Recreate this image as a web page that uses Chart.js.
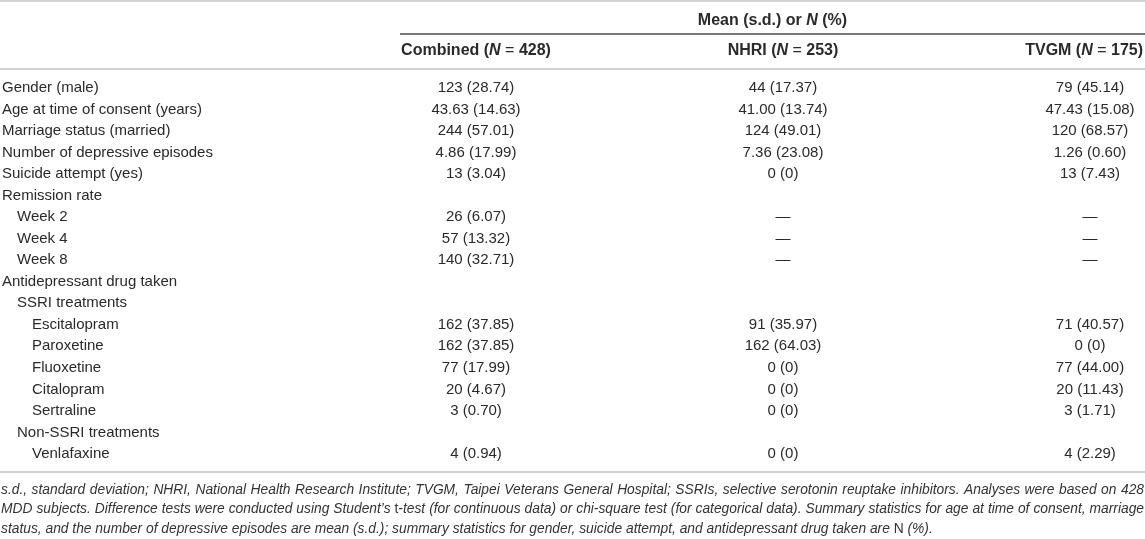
<!DOCTYPE html>
<html>
<head>
<meta charset="utf-8">
<script src="https://cdn.jsdelivr.net/npm/chart.js"></script>
<style>
  html, body { margin: 0; padding: 0; background: #fff; }
  #wrap { width: 1145px; height: 539px; position: relative; }
</style>
</head>
<body>
<div id="wrap"><canvas id="table-canvas"></canvas></div>
<script>
// Data

const columns = ['Combined', 'NHRI', 'TVGM'];
const columnN = [428, 253, 175];

const rows = [
    'Gender (male)', 'Age at time of consent (years)', 'Marriage status (married)',
    'Number of depressive episodes', 'Suicide attempt (yes)', 'Remission rate',
    'Week 2', 'Week 4', 'Week 8', 'Antidepressant drug taken', 'SSRI treatments',
    'Escitalopram', 'Paroxetine', 'Fluoxetine', 'Citalopram', 'Sertraline',
    'Non-SSRI treatments', 'Venlafaxine'
];
const rowLevel = [0, 0, 0, 0, 0, 0, 1, 1, 1, 0, 1, 2, 2, 2, 2, 2, 1, 2];

const combined = ['123 (28.74)', '43.63 (14.63)', '244 (57.01)', '4.86 (17.99)', '13 (3.04)', '',
    '26 (6.07)', '57 (13.32)', '140 (32.71)', '', '',
    '162 (37.85)', '162 (37.85)', '77 (17.99)', '20 (4.67)', '3 (0.70)', '', '4 (0.94)'];
const nhri = ['44 (17.37)', '41.00 (13.74)', '124 (49.01)', '7.36 (23.08)', '0 (0)', '',
    '—', '—', '—', '', '',
    '91 (35.97)', '162 (64.03)', '0 (0)', '0 (0)', '0 (0)', '', '0 (0)'];
const tvgm = ['79 (45.14)', '47.43 (15.08)', '120 (68.57)', '1.26 (0.60)', '13 (7.43)', '',
    '—', '—', '—', '', '',
    '71 (40.57)', '0 (0)', '77 (44.00)', '20 (11.43)', '3 (1.71)', '', '4 (2.29)'];

// Fonts

const FAM = '"Liberation Sans", Arial, Helvetica, sans-serif';
const reg = '15px ' + FAM,
      hreg = '16px ' + FAM,
      bold = 'bold 16px ' + FAM,
      boldIt = 'italic bold 16px ' + FAM,
      noteIt = 'italic 13.8px ' + FAM,
      noteUp = '13.8px ' + FAM;
const ink = '#2a2a2a';

const footnote = [
    [['s.d., standard deviation; NHRI, National Health Research Institute; TVGM, Taipei Veterans General Hospital; SSRIs, selective serotonin reuptake inhibitors. Analyses were based on 428', noteIt]],
    [['MDD subjects. Difference tests were conducted using Student\u2019s ', noteIt], ['t', noteUp],
     ['-test (for continuous data) or chi-square test (for categorical data). Summary statistics for age at time of consent, marriage', noteIt]],
    [['status, and the number of depressive episodes are mean (s.d.); summary statistics for gender, suicide attempt, and antidepressant drug taken are ', noteIt],
     ['N', noteUp], [' (%).', noteIt]]
];
const footWidth = [1143, 1143, null];

// Functions

function splitRuns(runs) {
    let parts = [];
    runs.forEach(([text, font]) => {
        text.split(/( )/).forEach(p => { if (p !== '') parts.push([p, font]); });
    });
    return parts;
}

function measureRuns(ctx, runs) {
    let total = 0;
    splitRuns(runs).forEach(([p, font]) => { ctx.font = font; total += ctx.measureText(p).width; });
    return total;
}

function drawRuns(ctx, runs, x, y, width) {
    const parts = splitRuns(runs);
    let total = 0, spaces = 0;
    parts.forEach(([p, font]) => {
        ctx.font = font;
        total += ctx.measureText(p).width;
        if (p === ' ') spaces++;
    });
    const extra = (width && spaces) ? (width - total) / spaces : 0;
    let cx = x;
    parts.forEach(([p, font]) => {
        ctx.font = font;
        const w = ctx.measureText(p).width;
        if (p === ' ') { cx += w + extra; return; }
        ctx.fillText(p, cx, y);
        cx += w;
    });
}

function hline(ctx, x1, x2, y, color, lw) {
    ctx.beginPath();
    ctx.strokeStyle = color;
    ctx.lineWidth = lw;
    ctx.moveTo(x1, y);
    ctx.lineTo(x2, y);
    ctx.stroke();
}

// Table plugin

const tablePlugin = {
    id: 'tableText',
    afterDraw(chart) {
        const ctx = chart.ctx,
              area = chart.chartArea,
              xs = chart.scales.x,
              ys = chart.scales.y,
              W = chart.width;

        ctx.save();
        ctx.fillStyle = ink;
        ctx.textBaseline = 'middle';

        // rules
        const spanLeft = xs.getPixelForValue(0) - 76;
        hline(ctx, 0, W, 1, '#d2d2d2', 2);
        hline(ctx, spanLeft, W, area.top - 54, '#4a4a4a', 1.5);
        hline(ctx, 0, W, area.top - 19, '#d2d2d2', 2);
        hline(ctx, 0, W, area.bottom + 18, '#d2d2d2', 2);

        // spanning header
        const mean = [['Mean (s.d.) or ', bold], ['N', boldIt], [' (%)', bold]];
        const mw = measureRuns(ctx, mean);
        drawRuns(ctx, mean, (spanLeft + W) / 2 - mw / 2, area.top - 67);

        // column headers
        columns.forEach((c, i) => {
            const runs = [[c + ' (', bold], ['N', boldIt], [' = ', hreg], [columnN[i] + ')', bold]];
            const w = measureRuns(ctx, runs);
            let x = xs.getPixelForValue(i) - w / 2;
            x = Math.min(x, W - 2 - w);
            drawRuns(ctx, runs, x, area.top - 37);
        });

        // row labels
        ctx.font = reg;
        ctx.textAlign = 'left';
        rows.forEach((r, i) => {
            ctx.fillText(r, 2 + rowLevel[i] * 15, ys.getPixelForValue(i));
        });

        // cells
        ctx.textAlign = 'center';
        chart.data.datasets.forEach((ds, d) => {
            chart.getDatasetMeta(d).data.forEach((pt, k) => {
                ctx.fillText(ds.data[k].text, pt.x, pt.y);
            });
        });

        // footnote
        ctx.textAlign = 'left';
        ctx.fillStyle = '#333';
        footnote.forEach((runs, k) => {
            drawRuns(ctx, runs, 1, area.bottom + 36 + k * 19.5, footWidth[k]);
        });
        ctx.restore();
    }
};

// Chart

const series = [combined, nhri, tvgm];
const tableCanvas = document.getElementById('table-canvas');

let tableChart = new Chart(tableCanvas, {
    type: 'scatter',
    data: {
        datasets: series.map((vals, c) => ({
            label: columns[c],
            data: vals.map((v, i) => ({ x: columns[c], y: rows[i], text: v })).filter(p => p.text !== ''),
            pointRadius: 0,
            pointHoverRadius: 0
        }))
    },
    options: {
        responsive: true,
        maintainAspectRatio: false,
        animation: false,
        events: [],
        layout: { padding: { left: 476, right: 55, top: 88, bottom: 85 } },
        scales: {
            x: { type: 'category', labels: columns, offset: false, display: false },
            y: { type: 'category', labels: rows, offset: false, display: false }
        },
        plugins: {
            legend: { display: false },
            tooltip: { enabled: false }
        }
    },
    plugins: [tablePlugin]
});
</script>
</body>
</html>
